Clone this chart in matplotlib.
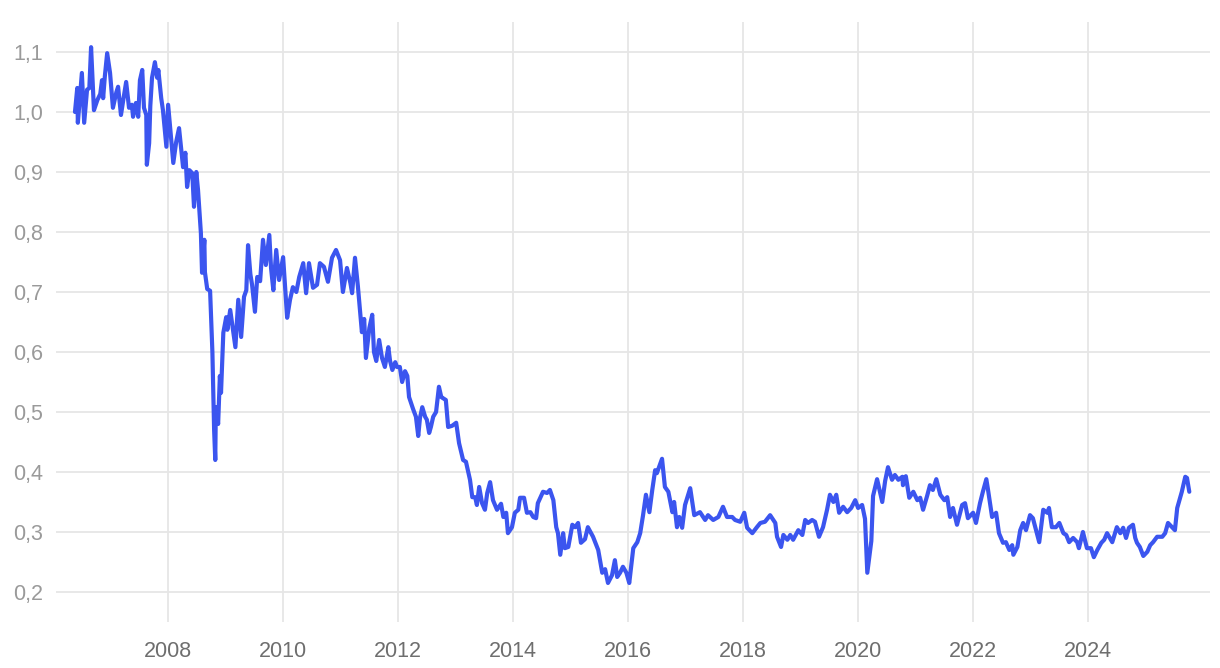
import matplotlib
matplotlib.use("Agg")
import matplotlib.pyplot as plt
from matplotlib.ticker import FuncFormatter

# decimal year of each observation
years = [
    2006.38, 2006.42, 2006.43, 2006.47, 2006.50, 2006.54, 2006.59, 2006.63, 2006.66, 2006.71,
    2006.77, 2006.82, 2006.85, 2006.87, 2006.90, 2006.94, 2006.99, 2007.04, 2007.10, 2007.13,
    2007.18, 2007.22, 2007.27, 2007.32, 2007.37, 2007.39, 2007.44, 2007.48, 2007.51, 2007.55,
    2007.58, 2007.62, 2007.63, 2007.67, 2007.69, 2007.72, 2007.77, 2007.81, 2007.83, 2007.88,
    2007.91, 2007.97, 2008.00, 2008.09, 2008.14, 2008.19, 2008.26, 2008.30, 2008.33, 2008.37,
    2008.42, 2008.45, 2008.49, 2008.52, 2008.57, 2008.59, 2008.63, 2008.64, 2008.68, 2008.73,
    2008.77, 2008.80, 2008.82, 2008.83, 2008.87, 2008.90, 2008.92, 2008.96, 2009.01, 2009.03,
    2009.08, 2009.13, 2009.17, 2009.22, 2009.27, 2009.32, 2009.36, 2009.39, 2009.43, 2009.46,
    2009.51, 2009.55, 2009.60, 2009.65, 2009.70, 2009.76, 2009.79, 2009.83, 2009.88, 2009.93,
    2010.00, 2010.07, 2010.12, 2010.17, 2010.23, 2010.28, 2010.35, 2010.40, 2010.45, 2010.52,
    2010.59, 2010.64, 2010.71, 2010.78, 2010.85, 2010.92, 2010.99, 2011.04, 2011.11, 2011.17,
    2011.20, 2011.25, 2011.30, 2011.37, 2011.41, 2011.44, 2011.50, 2011.55, 2011.58, 2011.62,
    2011.67, 2011.72, 2011.77, 2011.83, 2011.86, 2011.90, 2011.95, 2011.98, 2012.03, 2012.07,
    2012.12, 2012.16, 2012.19, 2012.26, 2012.31, 2012.35, 2012.38, 2012.42, 2012.47, 2012.50,
    2012.54, 2012.57, 2012.61, 2012.66, 2012.71, 2012.75, 2012.78, 2012.83, 2012.87, 2012.94,
    2013.01, 2013.06, 2013.13, 2013.18, 2013.25, 2013.29, 2013.34, 2013.37, 2013.41, 2013.46,
    2013.51, 2013.55, 2013.60, 2013.65, 2013.72, 2013.79, 2013.83, 2013.88, 2013.91, 2013.98,
    2014.03, 2014.09, 2014.12, 2014.19, 2014.24, 2014.30, 2014.35, 2014.40, 2014.43, 2014.52,
    2014.59, 2014.64, 2014.70, 2014.75, 2014.78, 2014.82, 2014.87, 2014.90, 2014.96, 2015.03,
    2015.08, 2015.13, 2015.18, 2015.25, 2015.30, 2015.39, 2015.48, 2015.55, 2015.60, 2015.65,
    2015.72, 2015.77, 2015.81, 2015.86, 2015.91, 2015.97, 2016.02, 2016.09, 2016.16, 2016.21,
    2016.26, 2016.31, 2016.37, 2016.42, 2016.47, 2016.50, 2016.59, 2016.64, 2016.70, 2016.77,
    2016.80, 2016.85, 2016.89, 2016.94, 2016.99, 2017.08, 2017.15, 2017.25, 2017.34, 2017.39,
    2017.48, 2017.57, 2017.65, 2017.72, 2017.81, 2017.86, 2017.95, 2018.02, 2018.07, 2018.16,
    2018.24, 2018.30, 2018.38, 2018.47, 2018.56, 2018.59, 2018.66, 2018.70, 2018.77, 2018.82,
    2018.87, 2018.96, 2019.03, 2019.08, 2019.13, 2019.20, 2019.25, 2019.32, 2019.39, 2019.46,
    2019.51, 2019.57, 2019.62, 2019.67, 2019.74, 2019.81, 2019.88, 2019.95, 2020.00, 2020.07,
    2020.12, 2020.16, 2020.23, 2020.26, 2020.33, 2020.42, 2020.47, 2020.52, 2020.59, 2020.64,
    2020.70, 2020.77, 2020.78, 2020.83, 2020.89, 2020.96, 2021.03, 2021.08, 2021.13, 2021.20,
    2021.25, 2021.30, 2021.36, 2021.43, 2021.50, 2021.55, 2021.60, 2021.65, 2021.72, 2021.81,
    2021.86, 2021.91, 2022.00, 2022.05, 2022.12, 2022.17, 2022.23, 2022.26, 2022.33, 2022.40,
    2022.45, 2022.52, 2022.57, 2022.63, 2022.68, 2022.70, 2022.77, 2022.82, 2022.87, 2022.92,
    2022.99, 2023.04, 2023.11, 2023.15, 2023.22, 2023.29, 2023.32, 2023.37, 2023.44, 2023.50,
    2023.57, 2023.62, 2023.67, 2023.74, 2023.81, 2023.84, 2023.91, 2023.98, 2024.05, 2024.10,
    2024.16, 2024.23, 2024.28, 2024.33, 2024.42, 2024.50, 2024.56, 2024.61, 2024.66, 2024.71,
    2024.78, 2024.82, 2024.85, 2024.90, 2024.96, 2025.03, 2025.08, 2025.13, 2025.20, 2025.29,
    2025.34, 2025.39, 2025.46, 2025.51, 2025.55, 2025.63, 2025.69, 2025.72, 2025.76,
]

values = [
    1.000, 1.040, 0.982, 1.030, 1.065, 0.982, 1.037, 1.040, 1.108, 1.003,
    1.020, 1.030, 1.053, 1.023, 1.060, 1.098, 1.065, 1.007, 1.033, 1.042,
    0.995, 1.020, 1.050, 1.007, 1.012, 0.992, 1.015, 0.992, 1.053, 1.070,
    1.007, 0.995, 0.912, 0.948, 1.010, 1.057, 1.083, 1.057, 1.070, 1.023,
    1.003, 0.942, 1.012, 0.915, 0.950, 0.973, 0.908, 0.932, 0.875, 0.903,
    0.898, 0.842, 0.900, 0.870, 0.798, 0.732, 0.787, 0.733, 0.705, 0.702,
    0.600, 0.470, 0.420, 0.508, 0.480, 0.560, 0.532, 0.632, 0.658, 0.637,
    0.670, 0.635, 0.608, 0.687, 0.625, 0.692, 0.703, 0.778, 0.730, 0.712,
    0.667, 0.725, 0.718, 0.787, 0.745, 0.795, 0.740, 0.703, 0.770, 0.720,
    0.758, 0.657, 0.687, 0.708, 0.700, 0.725, 0.748, 0.698, 0.748, 0.707,
    0.712, 0.748, 0.742, 0.717, 0.757, 0.770, 0.753, 0.700, 0.740, 0.715,
    0.698, 0.757, 0.710, 0.633, 0.655, 0.590, 0.640, 0.662, 0.600, 0.585,
    0.620, 0.590, 0.575, 0.608, 0.585, 0.570, 0.583, 0.575, 0.575, 0.550,
    0.568, 0.560, 0.525, 0.505, 0.492, 0.460, 0.490, 0.508, 0.492, 0.487,
    0.465, 0.475, 0.492, 0.500, 0.542, 0.525, 0.523, 0.520, 0.475, 0.477,
    0.482, 0.448, 0.420, 0.417, 0.387, 0.358, 0.358, 0.345, 0.375, 0.348,
    0.337, 0.365, 0.383, 0.353, 0.337, 0.347, 0.325, 0.332, 0.298, 0.308,
    0.332, 0.337, 0.357, 0.357, 0.332, 0.333, 0.325, 0.323, 0.348, 0.367,
    0.365, 0.370, 0.353, 0.308, 0.298, 0.262, 0.298, 0.273, 0.275, 0.312,
    0.308, 0.315, 0.282, 0.288, 0.308, 0.292, 0.270, 0.232, 0.238, 0.215,
    0.228, 0.253, 0.225, 0.232, 0.242, 0.232, 0.215, 0.273, 0.283, 0.298,
    0.328, 0.362, 0.333, 0.370, 0.403, 0.398, 0.422, 0.375, 0.367, 0.333,
    0.350, 0.308, 0.325, 0.307, 0.345, 0.373, 0.328, 0.333, 0.320, 0.328,
    0.320, 0.325, 0.342, 0.325, 0.325, 0.320, 0.317, 0.332, 0.307, 0.298,
    0.308, 0.315, 0.317, 0.328, 0.315, 0.292, 0.275, 0.295, 0.287, 0.295,
    0.287, 0.303, 0.295, 0.320, 0.315, 0.320, 0.317, 0.292, 0.308, 0.337,
    0.362, 0.350, 0.362, 0.332, 0.342, 0.333, 0.340, 0.353, 0.340, 0.345,
    0.322, 0.232, 0.285, 0.360, 0.388, 0.350, 0.385, 0.408, 0.387, 0.395,
    0.387, 0.392, 0.378, 0.393, 0.357, 0.367, 0.353, 0.357, 0.337, 0.360,
    0.378, 0.370, 0.388, 0.362, 0.353, 0.358, 0.325, 0.340, 0.312, 0.345,
    0.348, 0.323, 0.332, 0.315, 0.348, 0.367, 0.388, 0.370, 0.325, 0.332,
    0.298, 0.282, 0.283, 0.270, 0.278, 0.262, 0.275, 0.303, 0.315, 0.303,
    0.328, 0.323, 0.298, 0.283, 0.337, 0.332, 0.340, 0.308, 0.308, 0.315,
    0.298, 0.295, 0.283, 0.290, 0.283, 0.273, 0.300, 0.273, 0.273, 0.258,
    0.270, 0.282, 0.287, 0.298, 0.283, 0.308, 0.298, 0.307, 0.290, 0.307,
    0.312, 0.290, 0.282, 0.275, 0.260, 0.267, 0.278, 0.283, 0.292, 0.292,
    0.298, 0.315, 0.308, 0.303, 0.340, 0.367, 0.392, 0.390, 0.367,
]

x_ticks = [2008, 2010, 2012, 2014, 2016, 2018, 2020, 2022, 2024]
y_ticks = [0.2, 0.3, 0.4, 0.5, 0.6, 0.7, 0.8, 0.9, 1.0, 1.1]

LINE_COLOR = "#3b55ef"
GRID_COLOR = "#e6e6e6"

plt.rcParams["font.family"] = ["Liberation Sans", "DejaVu Sans"]

fig = plt.figure(figsize=(12.2, 6.68), dpi=100)
ax = fig.add_axes([0.0459, 0.0689, 0.9459, 0.8982])

ax.plot(years, values, color=LINE_COLOR, linewidth=3.0,
        solid_joinstyle="round", solid_capstyle="round", zorder=3)

ax.set_xlim(2006.05, 2026.12)
ax.set_ylim(0.15, 1.15)
ax.set_xticks(x_ticks)
ax.set_yticks(y_ticks)
ax.yaxis.set_major_formatter(FuncFormatter(lambda v, _: f"{v:.1f}".replace(".", ",")))

ax.grid(True, color=GRID_COLOR, linewidth=1.3)
ax.set_axisbelow(True)
for s in ax.spines.values():
    s.set_visible(False)

ax.tick_params(axis="both", length=0)
ax.tick_params(axis="x", labelsize=15.5, colors="#6e6e6e", pad=14)
ax.tick_params(axis="y", labelsize=15.5, colors="#9a9a9a", pad=9)

fig.savefig("out.png", dpi=100, facecolor="white")
